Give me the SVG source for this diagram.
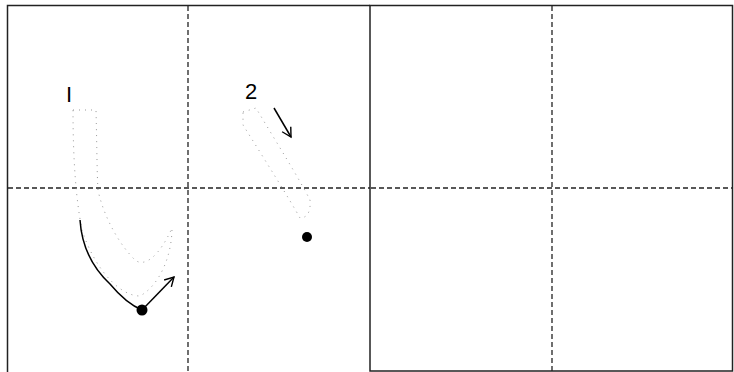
<svg xmlns="http://www.w3.org/2000/svg" width="734" height="372" viewBox="0 0 734 372">
<defs>
<style>
.border{fill:none;stroke:#222;stroke-width:1.5}
.guide{stroke:#222;stroke-width:1.3;stroke-dasharray:5 3;fill:none}
.outline{fill:none;stroke:#999;stroke-width:1;stroke-dasharray:1 5}
.path{fill:none;stroke:#000;stroke-width:1.5}
.label{font-family:"Liberation Sans",Arial,sans-serif;font-size:22px;fill:#000}
</style>
<marker id="open" viewBox="0 0 12 12" refX="10" refY="6" markerWidth="12" markerHeight="12" markerUnits="userSpaceOnUse" orient="auto">
<path d="M1,1 L10,6 L1,11" fill="none" stroke="#000" stroke-width="1.4"/>
</marker>
</defs>
<rect width="734" height="372" fill="#fff"/>
<g id="grid-left">
<path class="border" d="M7.5,372 V5.5 H370"/>
<line class="guide" x1="188" y1="6" x2="188" y2="372"/>
<line class="guide" x1="8" y1="188" x2="370" y2="188"/>
</g>
<g id="grid-right">
<rect class="border" x="370" y="5.5" width="362.5" height="365.5"/>
<line class="guide" x1="552" y1="6" x2="552" y2="371"/>
<line class="guide" x1="371" y1="188" x2="732" y2="188"/>
</g>
<g id="stroke-1">
<text class="label" x="66" y="102">I</text>
<path class="outline" d="M73,110 L96,110 C97,150 97,175 98,190 C102,210 115,240 135,260 C145,268 160,255 172,228 C172,255 160,285 140,296 C120,296 95,270 82,230 C76,200 73,160 73,110 Z"/>
<circle cx="142" cy="310" r="5.5" fill="#000"/>
</g>
<g id="stroke-2">
<text class="label" x="245" y="99">2</text>
<path class="outline" d="M243,112 L256,108 C275,140 300,180 310,200 C311,212 307,218 300,218 C290,200 265,160 243,125 Z"/>
<circle cx="307" cy="237" r="5" fill="#000"/>
</g>
<g id="connectors">
<path class="path" d="M80,220 C82,250 95,270 110,284 C120,296 130,305 142,310"/>
<path class="path" d="M142,310 L174,277" marker-end="url(#open)"/>
<path class="path" d="M274,108 L291,137" marker-end="url(#open)"/>
</g>
</svg>
